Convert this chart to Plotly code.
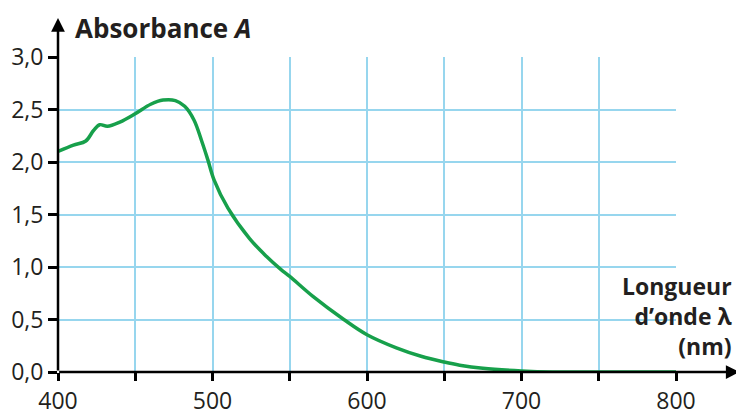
import plotly.graph_objects as go

wavelength = [400, 410, 418, 423, 427, 432, 440, 450, 460, 468, 476, 482, 488, 493, 497, 501,
              510, 524, 535, 544, 550, 565, 585, 600, 619, 635, 650, 660, 675, 700, 720, 750, 800]
absorbance = [2.10, 2.16, 2.20, 2.30, 2.355, 2.34, 2.38, 2.46, 2.55, 2.59, 2.585, 2.53, 2.40, 2.20, 2.02, 1.83,
              1.56, 1.27, 1.10, 0.98, 0.91, 0.72, 0.50, 0.355, 0.23, 0.15, 0.095, 0.065, 0.035, 0.01, 0.0, 0.0, 0.0]

x_ticks = [400, 450, 500, 550, 600, 650, 700, 750, 800]
x_labels = ["400", "", "500", "", "600", "", "700", "", "800"]
y_ticks = [0, 0.5, 1.0, 1.5, 2.0, 2.5, 3.0]
y_labels = ["0,0", "0,5", "1,0", "1,5", "2,0", "2,5", "3,0"]

FONT = "Open Sans"
TXT = "#231f20"
GRID = "#97d6ee"

fig = go.Figure()
fig.add_trace(go.Scatter(x=wavelength, y=absorbance, mode="lines",
                         line=dict(color="#17a04b", width=3.5, shape="spline", smoothing=1.0),
                         hoverinfo="skip"))

# page body has an 8px default margin: figure is sized to fit the window
fig.update_layout(
    width=736, height=403,
    margin=dict(l=50, r=68, t=49, b=39, autoexpand=False),
    paper_bgcolor="white", plot_bgcolor="white",
    showlegend=False,
    font=dict(family=FONT, color=TXT, size=23),
    xaxis=dict(range=[400, 800], tickvals=x_ticks, ticktext=x_labels, automargin=False,
               showgrid=True, gridcolor=GRID, gridwidth=1.5,
               showline=False, zeroline=False,
               ticks="outside", ticklen=8, tickwidth=2.5, tickcolor="black",
               tickfont=dict(size=23, family=FONT, color=TXT)),
    yaxis=dict(range=[0, 3.0], tickvals=y_ticks, ticktext=y_labels, automargin=False,
               showgrid=True, gridcolor=GRID, gridwidth=1.5,
               showline=False, zeroline=False,
               ticks="outside", ticklen=9, tickwidth=2.5, tickcolor="black",
               tickfont=dict(size=23, family=FONT, color=TXT)),
)

# axis lines with arrows
fig.add_annotation(x=1.103, y=0, xref="paper", yref="paper", ax=-682, ay=0,
                   axref="pixel", ayref="pixel", showarrow=True, arrowhead=2,
                   arrowsize=1.1, arrowwidth=2.5, arrowcolor="black", text="")
fig.add_annotation(x=0, y=1.124, xref="paper", yref="paper", ax=0, ay=354,
                   axref="pixel", ayref="pixel", showarrow=True, arrowhead=2,
                   arrowsize=1.1, arrowwidth=2.5, arrowcolor="black", text="")

fig.add_annotation(x=0, y=1.092, xref="paper", yref="paper", xanchor="left", yanchor="middle",
                   xshift=15, showarrow=False,
                   text="<b>Absorbance <i>A</i></b>", font=dict(size=26, family=FONT, color=TXT))
fig.add_annotation(x=1.094, y=0.178, xref="paper", yref="paper", xanchor="right", yanchor="middle",
                   showarrow=False, align="right",
                   text="<b>Longueur<br>d’onde λ<br>(nm)</b>",
                   font=dict(size=23, family=FONT, color=TXT))

fig.write_html("out.html")
